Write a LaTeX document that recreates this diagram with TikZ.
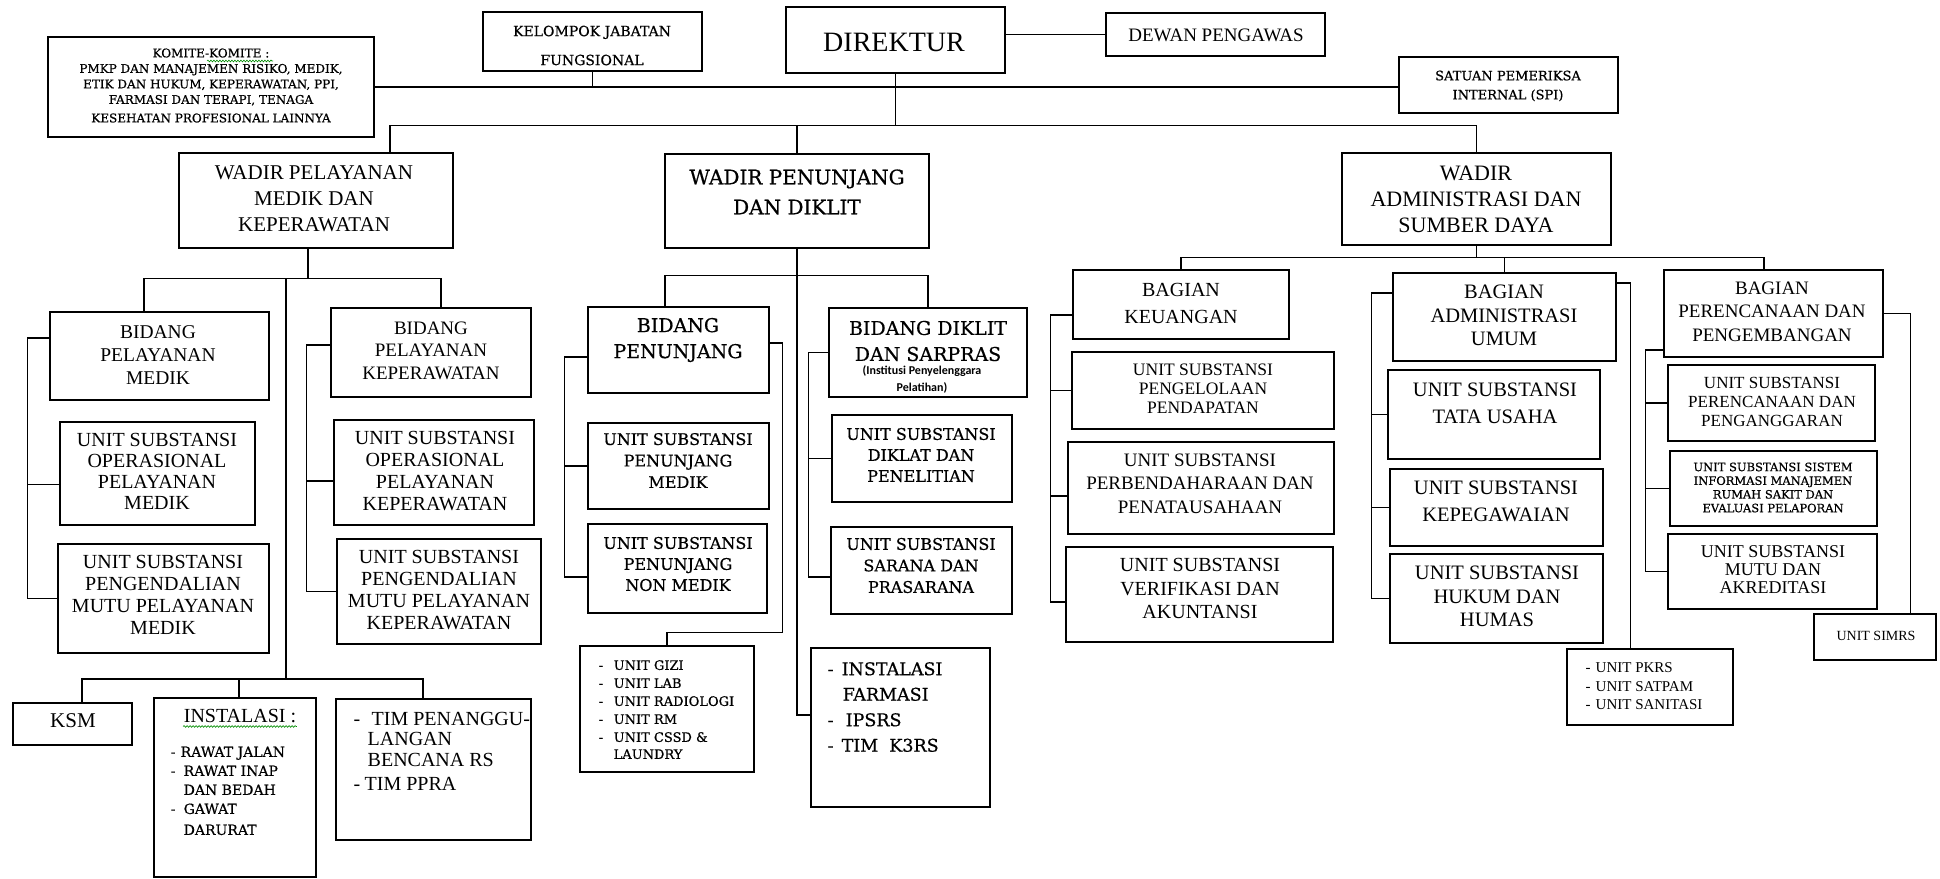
\documentclass[tikz,border=0pt]{standalone}
\usepackage{fontspec}
\setmainfont{Liberation Serif}
\newfontfamily\bookman{DejaVu Serif}[FakeBold=0.6]
\newfontfamily\calibri{Carlito}
\usetikzlibrary{fit,decorations.pathmorphing}
\newcommand{\fsz}[2]{\fontsize{#1}{#2}\selectfont}
\newcommand{\itm}[1]{\makebox[#1][l]{-}}

\begin{document}
\begin{tikzpicture}[x=1pt, y=-1pt, line width=1.4pt]
  \tikzstyle{box}=[draw, line width=1.5pt, inner sep=0pt]
  \tikzstyle{T}=[align=center, inner sep=0pt]
  \tikzstyle{L}=[align=left, inner sep=0pt, anchor=north west]
  \tikzstyle{wave}=[green!55!black, line width=0.6pt, decorate, decoration={snake, amplitude=0.9pt, segment length=3pt}]

  \useasboundingbox (0,0) rectangle (1940,878);
  \fill[white] (0,0) rectangle (1940,878);

  \node[box, fit={(48,37) (374,137)}] (komite) {};
  \node[box, fit={(483,12) (702,71)}] (kjf) {};
  \node[box, fit={(786,7) (1005,73)}] (dir) {};
  \node[box, fit={(1106,13) (1325,56)}] (dewan) {};
  \node[box, fit={(1399,57) (1618,113)}] (spi) {};

  \node[box, fit={(179,153) (453,248)}] (wpm) {};
  \node[box, fit={(665,154) (929,248)}] (wpd) {};
  \node[box, fit={(1342,153) (1611,245)}] (wsd) {};

  \node[box, fit={(50,312) (269,400)}] (bpm) {};
  \node[box, fit={(60,422) (255,525)}] (usopm) {};
  \node[box, fit={(58,544) (269,653)}] (uspmpm) {};
  \node[box, fit={(331,308) (531,397)}] (bpk) {};
  \node[box, fit={(334,420) (534,525)}] (usopk) {};
  \node[box, fit={(337,539) (541,644)}] (uspmpk) {};
  \node[box, fit={(13,703) (132,745)}] (ksm) {};
  \node[box, fit={(154,698) (316,877)}] (inst) {};
  \node[box, fit={(336,699) (531,840)}] (tim) {};

  \node[box, fit={(588,307) (769,393)}] (bpj) {};
  \node[box, fit={(588,423) (769,509)}] (uspm) {};
  \node[box, fit={(588,524) (767,613)}] (uspnm) {};
  \node[box, fit={(580,646) (754,772)}] (unitgizi) {};
  \node[box, fit={(829,308) (1027,397)}] (bds) {};
  \node[box, fit={(832,415) (1012,502)}] (usdp) {};
  \node[box, fit={(831,527) (1012,614)}] (ussp) {};
  \node[box, fit={(811,648) (990,807)}] (farmasi) {};

  \node[box, fit={(1073,270) (1289,339)}] (bk) {};
  \node[box, fit={(1072,352) (1334,429)}] (uspp) {};
  \node[box, fit={(1068,442) (1334,534)}] (uspb) {};
  \node[box, fit={(1066,547) (1333,642)}] (usva) {};
  \node[box, fit={(1393,273) (1616,361)}] (bau) {};
  \node[box, fit={(1388,370) (1600,459)}] (ustu) {};
  \node[box, fit={(1390,469) (1603,546)}] (uskp) {};
  \node[box, fit={(1390,554) (1603,643)}] (ushh) {};
  \node[box, fit={(1567,649) (1733,725)}] (pkrs) {};
  \node[box, fit={(1664,270) (1883,357)}] (bpp) {};
  \node[box, fit={(1668,365) (1875,441)}] (uspg) {};
  \node[box, fit={(1670,451) (1877,526)}] (ussim) {};
  \node[box, fit={(1668,534) (1877,609)}] (usma) {};
  \node[box, fit={(1814,614) (1936,660)}] (simrs) {};

  \node[T, font=\bookman\fsz{12}{15.5}] (komite-t) at (211,85.5) {KOMITE-KOMITE :\\PMKP DAN MANAJEMEN RISIKO, MEDIK,\\ETIK DAN HUKUM, KEPERAWATAN, PPI,\\FARMASI DAN TERAPI, TENAGA\\[3pt]KESEHATAN PROFESIONAL LAINNYA};
  \node[T, font=\bookman\fsz{14}{29}] (kjf-t) at (592,45.5) {KELOMPOK JABATAN\\FUNGSIONAL};
  \node[T, font=\fsz{28}{30}] (dir-t) at (894,42) {DIREKTUR};
  \node[T, font=\fsz{19}{22}] (dewan-t) at (1216,35) {DEWAN PENGAWAS};
  \node[T, font=\bookman\fsz{13}{19}] (spi-t) at (1508,86) {SATUAN PEMERIKSA\\INTERNAL (SPI)};

  \node[T, font=\fsz{21}{26}] (wpm-t) at (314,199) {WADIR PELAYANAN\\MEDIK DAN\\KEPERAWATAN};
  \node[T, font=\bookman\fsz{20}{30}] (wpd-t) at (797,192) {WADIR PENUNJANG\\DAN DIKLIT};
  \node[T, font=\fsz{22}{26}] (wsd-t) at (1476,199) {WADIR\\ADMINISTRASI DAN\\SUMBER DAYA};

  \node[T, font=\fsz{19.5}{23}] (bpm-t) at (158,355) {BIDANG\\PELAYANAN\\MEDIK};
  \node[T, font=\fsz{19}{22.5}] (bpk-t) at (431,350.5) {BIDANG\\PELAYANAN\\KEPERAWATAN};
  \node[T, font=\fsz{20}{21}] (usopm-t) at (157,471.5) {UNIT SUBSTANSI\\OPERASIONAL\\PELAYANAN\\MEDIK};
  \node[T, font=\fsz{20}{22}] (usopk-t) at (435,471.5) {UNIT SUBSTANSI\\OPERASIONAL\\PELAYANAN\\KEPERAWATAN};
  \node[T, font=\fsz{20}{22}] (uspmpm-t) at (163,595) {UNIT SUBSTANSI\\PENGENDALIAN\\MUTU PELAYANAN\\MEDIK};
  \node[T, font=\fsz{20}{22}] (uspmpk-t) at (439,590) {UNIT SUBSTANSI\\PENGENDALIAN\\MUTU PELAYANAN\\KEPERAWATAN};
  \node[T, font=\fsz{21}{24}] (ksm-t) at (73,721) {KSM};
  \node[T, font=\fsz{20}{22}] (inst-t) at (240,716) {INSTALASI :};
  \node[L, font=\bookman\fsz{14}{19}] (inst-l) at (170,746) {\itm{10pt}RAWAT JALAN\\\itm{13pt}RAWAT INAP\\\hspace*{13pt}DAN BEDAH\\\itm{13pt}GAWAT\\[2pt]\hspace*{13pt}DARURAT};
  \node[L, font=\fsz{20}{20.5}] (tim-l) at (353,711.5) {\itm{18pt}TIM PENANGGU-\\\hspace*{14pt}LANGAN\\\hspace*{14pt}BENCANA RS\\[4pt]\itm{11pt}TIM PPRA};

  \node[T, font=\bookman\fsz{19}{26}] (bpj-t) at (678,340) {BIDANG\\PENUNJANG};
  \node[T, font=\bookman\fsz{16}{21.5}] (uspm-t) at (678,460.5) {UNIT SUBSTANSI\\PENUNJANG\\MEDIK};
  \node[T, font=\bookman\fsz{16}{21}] (uspnm-t) at (678,564) {UNIT SUBSTANSI\\PENUNJANG\\NON MEDIK};
  \node[L, font=\bookman\fsz{13}{18}] (gizi-l) at (598,659.5) {\itm{15pt}UNIT GIZI\\\itm{15pt}UNIT LAB\\\itm{15pt}UNIT RADIOLOGI\\\itm{15pt}UNIT RM\\\itm{15pt}UNIT CSSD \&\\[-1pt]\hspace*{15pt}LAUNDRY};
  \node[T, font=\bookman\fsz{19}{26}] (bds-t) at (928,341) {BIDANG DIKLIT\\DAN SARPRAS};
  \node[T, font=\calibri\bfseries\fsz{12}{17}] (bds-n) at (922,379) {(Institusi Penyelenggara\\Pelatihan)};
  \node[T, font=\bookman\fsz{16}{21}] (usdp-t) at (921,455) {UNIT SUBSTANSI\\DIKLAT DAN\\PENELITIAN};
  \node[T, font=\bookman\fsz{16}{21.5}] (ussp-t) at (921,565.5) {UNIT SUBSTANSI\\SARANA DAN\\PRASARANA};
  \node[L, font=\bookman\fsz{17.5}{25.5}] (farmasi-l) at (827,661.5) {\itm{14pt}INSTALASI\\\hspace*{15pt}FARMASI\\\itm{18pt}IPSRS\\\itm{14pt}TIM\ \ K3RS};

  \node[T, font=\fsz{20}{27}] (bk-t) at (1181,303.5) {BAGIAN\\KEUANGAN};
  \node[T, font=\fsz{17.5}{19}] (uspp-t) at (1203,389) {UNIT SUBSTANSI\\PENGELOLAAN\\PENDAPATAN};
  \node[T, font=\fsz{19}{23.5}] (uspb-t) at (1200,483.5) {UNIT SUBSTANSI\\PERBENDAHARAAN DAN\\PENATAUSAHAAN};
  \node[T, font=\fsz{20}{23.5}] (usva-t) at (1200,588.5) {UNIT SUBSTANSI\\VERIFIKASI DAN\\AKUNTANSI};
  \node[T, font=\fsz{20.5}{23.5}] (bau-t) at (1504,315.5) {BAGIAN\\ADMINISTRASI\\UMUM};
  \node[T, font=\fsz{20.5}{27}] (ustu-t) at (1495,403.5) {UNIT SUBSTANSI\\TATA USAHA};
  \node[T, font=\fsz{20.5}{27}] (uskp-t) at (1496,501.5) {UNIT SUBSTANSI\\KEPEGAWAIAN};
  \node[T, font=\fsz{20.5}{23.5}] (ushh-t) at (1497,596.5) {UNIT SUBSTANSI\\HUKUM DAN\\HUMAS};
  \node[L, font=\fsz{15}{18.5}] (pkrs-l) at (1585,662) {\itm{10pt}UNIT PKRS\\\itm{10pt}UNIT SATPAM\\\itm{10pt}UNIT SANITASI};
  \node[T, font=\fsz{19}{23.5}] (bpp-t) at (1772,311.5) {BAGIAN\\PERENCANAAN DAN\\PENGEMBANGAN};
  \node[T, font=\fsz{17}{19}] (uspg-t) at (1772,402) {UNIT SUBSTANSI\\PERENCANAAN DAN\\PENGANGGARAN};
  \node[T, font=\bookman\fsz{11.5}{13.7}] (ussim-t) at (1773,487.5) {UNIT SUBSTANSI SISTEM\\INFORMASI MANAJEMEN\\RUMAH SAKIT DAN\\EVALUASI PELAPORAN};
  \node[T, font=\fsz{18}{18}] (usma-t) at (1773,570) {UNIT SUBSTANSI\\MUTU DAN\\AKREDITASI};
  \node[T, font=\fsz{14}{16}] (simrs-t) at (1876,636) {UNIT SIMRS};

  % spelling marks
  \draw[wave] (207,61) -- (273,61);
  \draw[wave] ([yshift=-3pt]inst-t.south west) -- ([yshift=-3pt]inst-t.south east);

  % direktur level
  \draw (dir.east |- dewan.west) -- (dewan.west);
  \draw (komite.east) -- (komite.east -| spi.west);
  \draw (kjf.south) -- (kjf.south |- komite.east);
  \draw (dir.south) -- ++(0,52) coordinate (jdir);
  \draw ([xshift=74pt]wpm.north) |- (jdir) -| (wsd.north);
  \draw (wpd.north) -- (wpd.north |- jdir);

  % wadir pelayanan
  \draw ([xshift=-8pt]wpm.south) -- ++(0,30) coordinate (jwpm);
  \draw (jwpm) -| ([xshift=-15.5pt]bpm.north);
  \draw (jwpm) -| ([xshift=10pt]bpk.north);
  \coordinate (jksm) at (286,679);
  \draw (jwpm -| jksm) -- (jksm);
  \draw (jksm) -| ([xshift=9.5pt]ksm.north);
  \draw (jksm) -| ([xshift=4pt]inst.north);
  \draw (jksm) -| ([xshift=-10.5pt]tim.north);
  \draw ([yshift=18pt]bpm.west) -- ++(-22,0) |- (uspmpm.west);
  \draw ([yshift=-11pt]usopm.west) -- ++(-32,0);
  \draw ([yshift=7.5pt]bpk.west) -- ++(-24,0) |- (uspmpk.west);
  \draw ([yshift=-8.5pt]usopk.west) -- ++(-27,0);

  % wadir penunjang
  \draw (wpd.south) -- ++(0,27) coordinate (jwpd);
  \draw (jwpd) -| ([xshift=-13.5pt]bpj.north);
  \draw (jwpd) -| (bds.north);
  \draw (jwpd) |- ([yshift=12.5pt]farmasi.west);
  \draw ([yshift=-7pt]bpj.west) -- ++(-23,0) |- ([yshift=-8.5pt]uspnm.west);
  \draw (uspm.west) -- ++(-23,0);
  \draw ([yshift=7pt]bpj.east) -- ++(13,0) |- ([yshift=13pt]unitgizi.north) -- (unitgizi.north);
  \draw (bds.west) -- ++(-20,0) |- ([yshift=-6.5pt]ussp.west);
  \draw (usdp.west) -- ++(-23,0);

  % wadir administrasi
  \draw (wsd.south) -- ++(0,12) coordinate (jwsd);
  \draw (jwsd) -| (bk.north);
  \draw (jwsd) -| (bau.north);
  \draw (jwsd) -| ([xshift=-9.5pt]bpp.north);
  \draw ([yshift=-10.5pt]bk.west) -- ++(-22,0) |- ([yshift=-7.5pt]usva.west);
  \draw (uspp.west) -- ++(-21,0);
  \draw ([yshift=-8pt]uspb.west) -- ++(-17,0);
  \draw ([yshift=24pt]bau.west) -- ++(-21,0) |- (ushh.west);
  \draw (ustu.west) -- ++(-16,0);
  \draw (uskp.west) -- ++(-18,0);
  \draw ([yshift=34pt]bau.east) -- ++(14,0) coordinate (jbau);
  \draw (jbau) -- (jbau |- pkrs.north);
  \draw ([yshift=-36.5pt]bpp.west) -- ++(-18,0) |- (usma.west);
  \draw (uspg.west) -- ++(-22,0);
  \draw (ussim.west) -- ++(-24,0);
  \draw (bpp.east) -- ++(27,0) coordinate (jbpp);
  \draw (jbpp) -- (jbpp |- simrs.north);
\end{tikzpicture}
\end{document}
